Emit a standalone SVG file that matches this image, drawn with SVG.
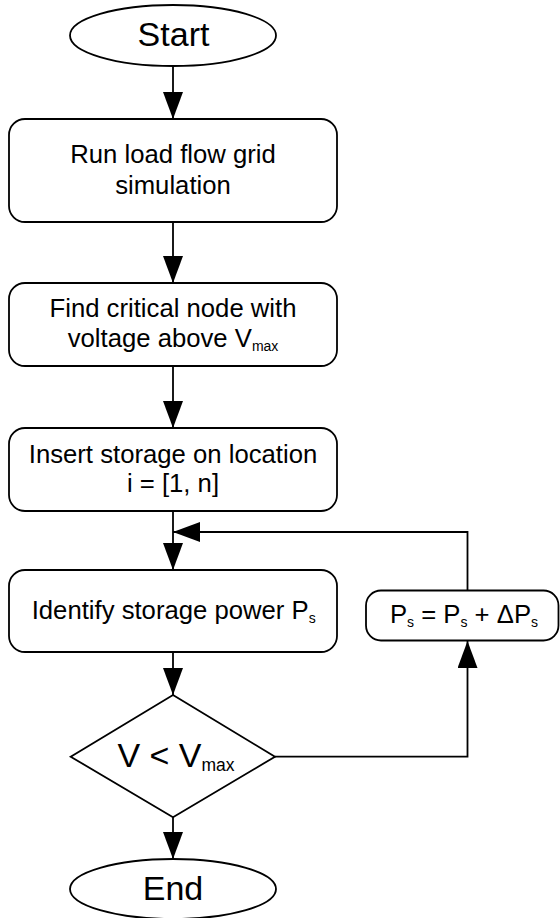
<svg xmlns="http://www.w3.org/2000/svg" width="560" height="918" viewBox="0 0 560 918">
<style>
.shape{fill:#fff;stroke:#000;stroke-width:1.8}
.conn{fill:none;stroke:#000;stroke-width:1.8}
text{font-family:"Liberation Sans",Arial,sans-serif;fill:#000;text-anchor:middle}
.t{font-size:25.7px}
.big{font-size:34px}
</style>
<defs>
<marker id="ah" markerUnits="userSpaceOnUse" markerWidth="27" markerHeight="20" viewBox="0 0 27 20" refX="27" refY="10" orient="auto">
<path d="M0,0 L27,10 L0,20 Z" fill="#000"/>
</marker>
</defs>
<g id="connectors">
<line class="conn" x1="173" y1="66" x2="173" y2="119" marker-end="url(#ah)"/>
<line class="conn" x1="173" y1="222" x2="173" y2="283" marker-end="url(#ah)"/>
<line class="conn" x1="173" y1="366" x2="173" y2="428" marker-end="url(#ah)"/>
<line class="conn" x1="173" y1="511" x2="173" y2="570" marker-end="url(#ah)"/>
<line class="conn" x1="173" y1="652" x2="173" y2="695" marker-end="url(#ah)"/>
<line class="conn" x1="173" y1="817" x2="173" y2="859" marker-end="url(#ah)"/>
<polyline class="conn" points="275,756.7 467.5,756.7 467.5,641" marker-end="url(#ah)"/>
<polyline class="conn" points="467.5,590.5 467.5,532 173,532" marker-end="url(#ah)"/>
</g>
<g id="start">
<ellipse class="shape" cx="173" cy="35.5" rx="103" ry="30.5"/>
<text class="big" x="173.5" y="45.7">Start</text>
</g>
<g id="run-load-flow">
<rect class="shape" x="9" y="119" width="328" height="103" rx="16"/>
<text class="t" x="173" y="163">Run load flow grid</text>
<text class="t" x="173" y="194">simulation</text>
</g>
<g id="find-critical-node">
<rect class="shape" x="9" y="283" width="328" height="83" rx="16"/>
<text class="t" x="173" y="317">Find critical node with</text>
<text class="t" x="173" y="347">voltage above V<tspan font-size="14" dy="4">max</tspan></text>
</g>
<g id="insert-storage">
<rect class="shape" x="9" y="428" width="328" height="83" rx="16"/>
<text class="t" x="173" y="463">Insert storage on location</text>
<text class="t" x="173" y="492">i = [1, n]</text>
</g>
<g id="identify-power">
<rect class="shape" x="9" y="570" width="328" height="82" rx="16"/>
<text class="t" x="173.7" y="619">Identify storage power P<tspan font-size="14" dy="4">s</tspan></text>
</g>
<g id="update-power">
<rect class="shape" x="366" y="590.5" width="192.5" height="50" rx="15"/>
<text class="t" x="464" y="622.7">P<tspan font-size="14" dy="4">s</tspan><tspan dy="-4"> = P</tspan><tspan font-size="14" dy="4">s</tspan><tspan dy="-4"> + ΔP</tspan><tspan font-size="14" dy="4">s</tspan></text>
</g>
<g id="decision">
<polygon class="shape" points="173,695 275,756.7 173,817.3 70.7,756.7"/>
<text class="big" x="176" y="766.7">V &lt; V<tspan font-size="17.5" dy="4">max</tspan></text>
</g>
<g id="end">
<ellipse class="shape" cx="173" cy="889" rx="103" ry="30"/>
<text class="big" x="173" y="900">End</text>
</g>
</svg>
